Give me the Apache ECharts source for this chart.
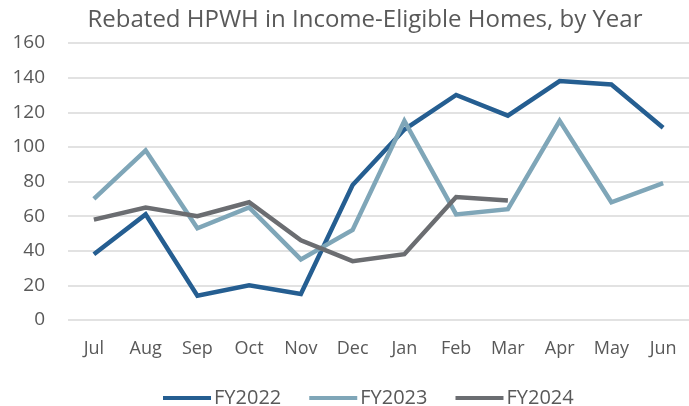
<!DOCTYPE html>
<html>
<head>
<meta charset="utf-8">
<script src="https://cdn.jsdelivr.net/npm/echarts@6/dist/echarts.min.js"></script>
<style>
  html, body { margin: 0; padding: 0; background: #fff; }
  #chart { width: 689px; height: 406px; }
</style>
</head>
<body>
<div id="chart"></div>
<script>
const months = ['Jul','Aug','Sep','Oct','Nov','Dec','Jan','Feb','Mar','Apr','May','Jun'];
const fy2022 = [38, 61, 14, 20, 15, 78, 110, 130, 118, 138, 136, 111];
const fy2023 = [70, 98, 53, 65, 35, 52, 115, 61, 64, 115, 68, 79];
const fy2024 = [58, 65, 60, 68, 46, 34, 38, 71, 69];
const yTicks = { min: 0, max: 160, interval: 20 };

const chart = echarts.init(document.getElementById('chart'));
const font = '"Open Sans", "Noto Sans", sans-serif';
const txt = '#595959';

const mkLine = (name, data, color) => ({
  name: name,
  type: 'line',
  data: data,
  symbol: 'none',
  lineStyle: { width: 4.5, color: color, join: 'miter' },
  itemStyle: { color: color },
  z: 3
});

chart.setOption({
  animation: false,
  title: {
    text: 'Rebated HPWH in Income-Eligible Homes, by Year',
    left: 360,
    top: 3,
    textAlign: 'center',
    textStyle: { fontFamily: font, fontSize: 24, fontWeight: 'normal', color: txt }
  },
  legend: {
    top: 383,
    left: 158,
    itemWidth: 48,
    itemHeight: 4,
    itemGap: 28,
    icon: 'rect',
    textStyle: { fontFamily: font, fontSize: 20, color: txt, padding: [0, 0, 0, -2] },
    data: ['FY2022', 'FY2023', 'FY2024']
  },
  grid: { left: 68, right: -10, top: 43, bottom: 86 },
  xAxis: {
    type: 'category',
    data: months,
    boundaryGap: true,
    axisLine: { show: false },
    axisTick: { show: false },
    axisLabel: { fontFamily: font, fontSize: 18, color: txt, margin: 20 }
  },
  yAxis: {
    type: 'value',
    min: yTicks.min,
    max: yTicks.max,
    interval: yTicks.interval,
    axisLine: { show: false },
    axisTick: { show: false },
    axisLabel: { fontFamily: font, fontSize: 19, color: txt, margin: 23 },
    splitLine: { lineStyle: { color: '#d9d9d9', width: 1.5 } }
  },
  series: [
    mkLine('FY2022', fy2022, '#255e91'),
    mkLine('FY2023', fy2023, '#7fa6b8'),
    mkLine('FY2024', fy2024, '#6b6d71')
  ]
});
</script>
</body>
</html>
